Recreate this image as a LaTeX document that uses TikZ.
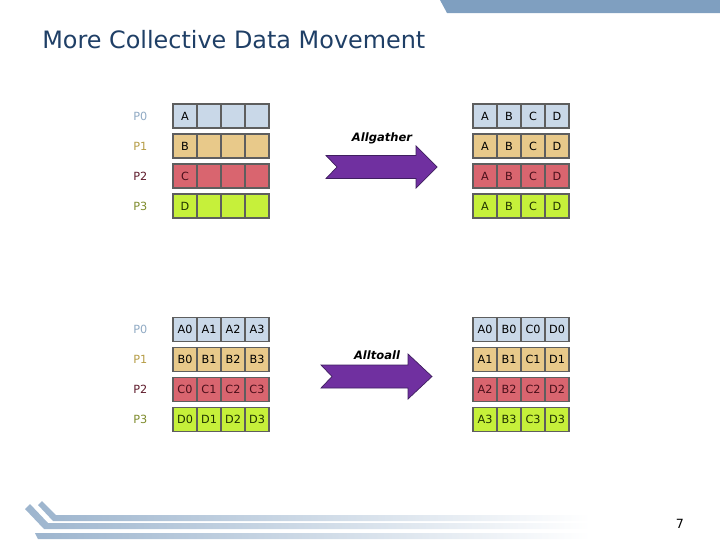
\documentclass[tikz,border=0pt]{standalone}
\usepackage{fontspec}
\setmainfont{DejaVu Sans}
\usetikzlibrary{positioning}
\definecolor{titleblue}{HTML}{1F3F66}
\definecolor{bannerblue}{HTML}{7F9FC0}
\definecolor{footblue}{HTML}{9DB5CE}
\definecolor{cellline}{HTML}{5E5E5E}
\definecolor{cellblue}{HTML}{C9D8E8}
\definecolor{celltan}{HTML}{E8C98A}
\definecolor{cellred}{HTML}{D9656F}
\definecolor{celllime}{HTML}{C6F03A}
\definecolor{pblue}{HTML}{8FA9C3}
\definecolor{ptan}{HTML}{B59C45}
\definecolor{pred}{HTML}{5E1B2B}
\definecolor{pgreen}{HTML}{7E8B2C}
\definecolor{textred}{HTML}{4A0F1A}
\definecolor{textgreen}{HTML}{1F3300}
\definecolor{arrowpurple}{HTML}{7030A0}
\definecolor{arrowedge}{HTML}{3F1F5F}

\begin{document}
\begin{tikzpicture}[x=0.025cm, y=-0.025cm,
    cell/.style={rectangle, draw=cellline, line width=1.2pt, fill=#1,
                 minimum width=0.6cm, minimum height=0.6cm, inner sep=0pt,
                 font=\fontsize{8}{9}\selectfont},
    plabel/.style={anchor=west, inner sep=0pt, text=#1, font=\fontsize{8}{9}\selectfont},
    bigarrow/.style={fill=arrowpurple, draw=arrowedge, line width=0.5pt},
    arrlabel/.style={font=\fontsize{8.2}{10}\selectfont\bfseries\itshape}
]
\useasboundingbox (0,0) rectangle (720,540);

% header band and title
\fill[bannerblue] (440,0) -- (720,0) -- (720,13) -- (447,13) -- cycle;
\node[anchor=west, inner sep=0pt, text=titleblue, font=\fontsize{17}{20}\selectfont]
    (title) at (42,40) {More Collective Data Movement};

% process rows
\foreach \r/\fc/\pc/\tc/\ltr in {0/cellblue/pblue/black/A, 1/celltan/ptan/black/B,
                                 2/cellred/pred/textred/C, 3/celllime/pgreen/textgreen/D} {
  \node[plabel=\pc] (ag-p\r) at (133,{116+30*\r}) {P\r};
  \node[plabel=\pc] (at-p\r) at (133,{329.5+30*\r}) {P\r};
  \foreach \c/\cl in {0/A, 1/B, 2/C, 3/D} {
    \node[cell=\fc, text=\tc] (ag-in-\r-\c) at ({185+24*\c},{116+30*\r}) {\ifnum\c=0 \ltr\fi};
    \node[cell=\fc, text=\tc] (ag-out-\r-\c) at ({485+24*\c},{116+30*\r}) {\cl};
    \node[cell=\fc, text=\tc] (at-in-\r-\c) at ({185+24*\c},{329.5+30*\r}) {\ltr\c};
    \node[cell=\fc, text=\tc] (at-out-\r-\c) at ({485+24*\c},{329.5+30*\r}) {\cl\r};
  }
}

% arrows
\draw[bigarrow] (326,155.5) -- (416,155.5) -- (416,146) -- (437,167) -- (416,188)
    -- (416,178.5) -- (326,178.5) -- (337,167) -- cycle;
\node[arrlabel] (agname) at (382,138) {Allgather};

\draw[bigarrow] (321,365) -- (408,365) -- (408,354) -- (432,376.5) -- (408,399)
    -- (408,388) -- (321,388) -- (332,376.5) -- cycle;
\node[arrlabel] (atname) at (377,355) {Alltoall};

% footer swoosh
\shade[left color=footblue, right color=white] (38,505) -- (42,501) -- (56,515)
    -- (590,515) -- (590,521) -- (53,521) -- cycle;
\shade[left color=footblue, right color=white] (25,509) -- (30,504) -- (48,523)
    -- (590,523) -- (590,529) -- (44,529) -- cycle;
\shade[left color=footblue, right color=white] (35,533) -- (590,533)
    -- (590,539) -- (38,539) -- cycle;
\node[font=\fontsize{9}{10}\selectfont] (pagenum) at (680,524) {7};
\end{tikzpicture}
\end{document}
